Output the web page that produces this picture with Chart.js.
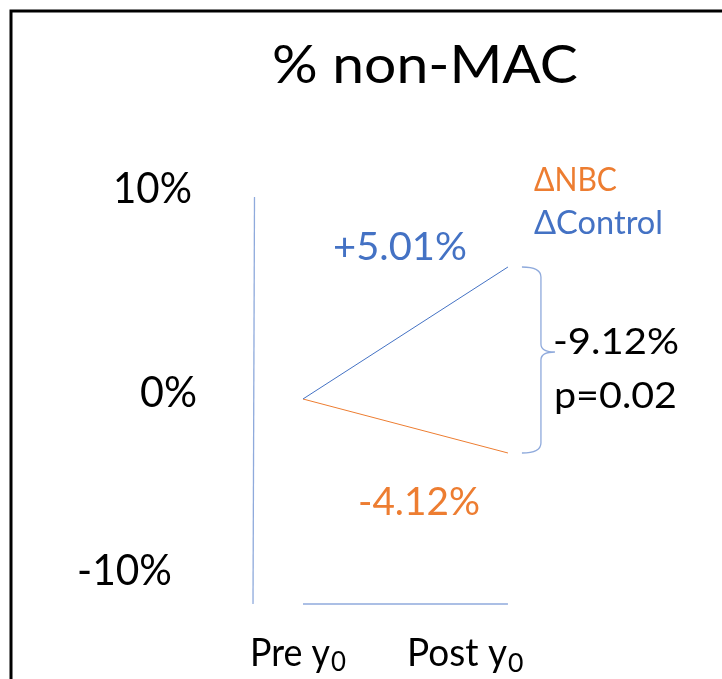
<!DOCTYPE html>
<html>
<head>
<meta charset="utf-8">
<script src="https://cdn.jsdelivr.net/npm/chart.js@4"></script>
<style>
  html, body { margin: 0; padding: 0; background: #ffffff; overflow: hidden; }
  #wrap { position: relative; width: 722px; height: 679px; }
</style>
</head>
<body>
<div id="wrap"><canvas id="c"></canvas></div>
<script>
// ---- data ----
const titleText = '% non-MAC';
const categories = ['Pre', 'Post'];
const categorySub = ['y', '0'];
const controlValues = [0, 5.01];
const nbcValues = [0, -4.12];
const seriesNames = ['ΔNBC', 'ΔControl'];
const tickValues = [10, 0, -10];
const tickLabels = ['10%', '0%', '-10%'];
const diffValue = -9.12;
const pValue = 'p=0.02';

const BLUE = '#4472C4';
const ORANGE = '#ED7D31';
const AXIS = '#8FAADC';
const FONT = 'Lato, "Open Sans", sans-serif';

function fmt(v) { return (v > 0 ? '+' : '') + v.toFixed(2) + '%'; }

// draw text fitted to a width (horizontal) and a cap height (vertical)
function fitText(ctx, text, left, baseline, width, capH, color) {
  ctx.font = '100px ' + FONT;
  const m = ctx.measureText(text);
  const size = 100 * width / m.width;
  const asc = m.actualBoundingBoxAscent * size / 100;
  const k = capH ? capH / asc : 1;
  ctx.save();
  ctx.font = size + 'px ' + FONT;
  ctx.fillStyle = color;
  ctx.textAlign = 'left';
  ctx.textBaseline = 'alphabetic';
  ctx.translate(left, baseline);
  ctx.scale(1, k);
  ctx.fillText(text, 0, 0);
  ctx.restore();
  return { size, k };
}

const decor = {
  id: 'decor',
  afterDraw(chart) {
    const ctx = chart.ctx;
    const xs = chart.scales.x, yc = chart.scales.yC, yn = chart.scales.yN;
    const ca = chart.chartArea;
    ctx.save();
    // frame (top + left)
    ctx.strokeStyle = '#000';
    ctx.lineWidth = 3;
    ctx.beginPath();
    ctx.moveTo(11, 680); ctx.lineTo(11, 11); ctx.lineTo(722, 11);
    ctx.stroke();

    // axes lines
    ctx.strokeStyle = AXIS;
    ctx.lineWidth = 1.3;
    ctx.beginPath();
    ctx.moveTo(ca.left + 0.5, ca.top); ctx.lineTo(ca.left - 1, ca.bottom);
    ctx.stroke();
    ctx.lineWidth = 1.6;
    ctx.beginPath();
    ctx.moveTo(xs.getPixelForValue(0), ca.bottom); ctx.lineTo(xs.getPixelForValue(1), ca.bottom);
    ctx.stroke();

    // brace between post values
    const bx = xs.getPixelForValue(1);
    const bt = yc.getPixelForValue(controlValues[1]);
    const bb = yn.getPixelForValue(nbcValues[1]);
    const bm = bt + (bb - bt) * 0.457;
    const x0 = bx + 14, x1 = bx + 33, x2 = bx + 47;
    ctx.strokeStyle = AXIS;
    ctx.lineWidth = 1.3;
    ctx.beginPath();
    ctx.moveTo(x0, bt);
    ctx.quadraticCurveTo(x1, bt, x1, bt + 10);
    ctx.lineTo(x1, bm - 8);
    ctx.quadraticCurveTo(x1, bm, x2, bm);
    ctx.quadraticCurveTo(x1, bm, x1, bm + 8);
    ctx.lineTo(x1, bb - 10);
    ctx.quadraticCurveTo(x1, bb, x0, bb);
    ctx.stroke();

    // title
    fitText(ctx, titleText, 272, 83, 306, 38, '#000');

    // tick labels
    const tickPos = [[113, 203, 79], [140, 407, 57], [77, 585, 95]];
    tickLabels.forEach((t, i) => fitText(ctx, t, tickPos[i][0], tickPos[i][1], tickPos[i][2], 31, '#000'));

    // value labels
    fitText(ctx, fmt(controlValues[1]), 333, 260, 134, 29, BLUE);
    fitText(ctx, fmt(nbcValues[1]), 358, 515, 122, 29, ORANGE);

    // legend
    fitText(ctx, seriesNames[0], 534, 191, 83, 24, ORANGE);
    fitText(ctx, seriesNames[1], 534, 234, 129, 24, BLUE);

    // difference annotation
    fitText(ctx, diffValue.toFixed(2) + '%', 553, 354, 126, 27, '#000');
    fitText(ctx, pValue, 554, 408, 123, 27, '#000');

    // category labels with subscript
    const catPos = [[250, 666, 80], [407, 666, 100]];
    categories.forEach((c, i) => {
      const r = fitText(ctx, c + ' ' + categorySub[0], catPos[i][0], catPos[i][1], catPos[i][2], 28, '#000');
      ctx.save();
      ctx.font = (r.size * 0.72) + 'px ' + FONT;
      ctx.fillStyle = '#000';
      ctx.translate(catPos[i][0] + catPos[i][2] + 1, catPos[i][1] + r.size * 0.15);
      ctx.scale(1, r.k);
      ctx.fillText(categorySub[1], 0, 0);
      ctx.restore();
    });
    ctx.restore();
  }
};

new Chart(document.getElementById('c'), {
  type: 'line',
  data: {
    datasets: [
      {
        label: seriesNames[1],
        data: categories.map((c, i) => ({ x: i, y: controlValues[i] })),
        borderColor: BLUE, borderWidth: 1, pointRadius: 0, yAxisID: 'yC', tension: 0
      },
      {
        label: seriesNames[0],
        data: categories.map((c, i) => ({ x: i, y: nbcValues[i] })),
        borderColor: ORANGE, borderWidth: 1, pointRadius: 0, yAxisID: 'yN', tension: 0
      }
    ]
  },
  options: {
    responsive: true,
    maintainAspectRatio: false,
    animation: false,
    layout: { padding: { left: 254, top: 197, right: 162, bottom: 75 } },
    plugins: { legend: { display: false }, title: { display: false }, tooltip: { enabled: false } },
    scales: {
      x: { type: 'linear', display: false, min: -0.239, max: 1.254 },
      yC: { type: 'linear', display: false, min: -7.78, max: 7.666 },
      yN: { type: 'linear', display: false, min: -15.64, max: 15.41 }
    }
  },
  plugins: [decor]
});
</script>
</body>
</html>
